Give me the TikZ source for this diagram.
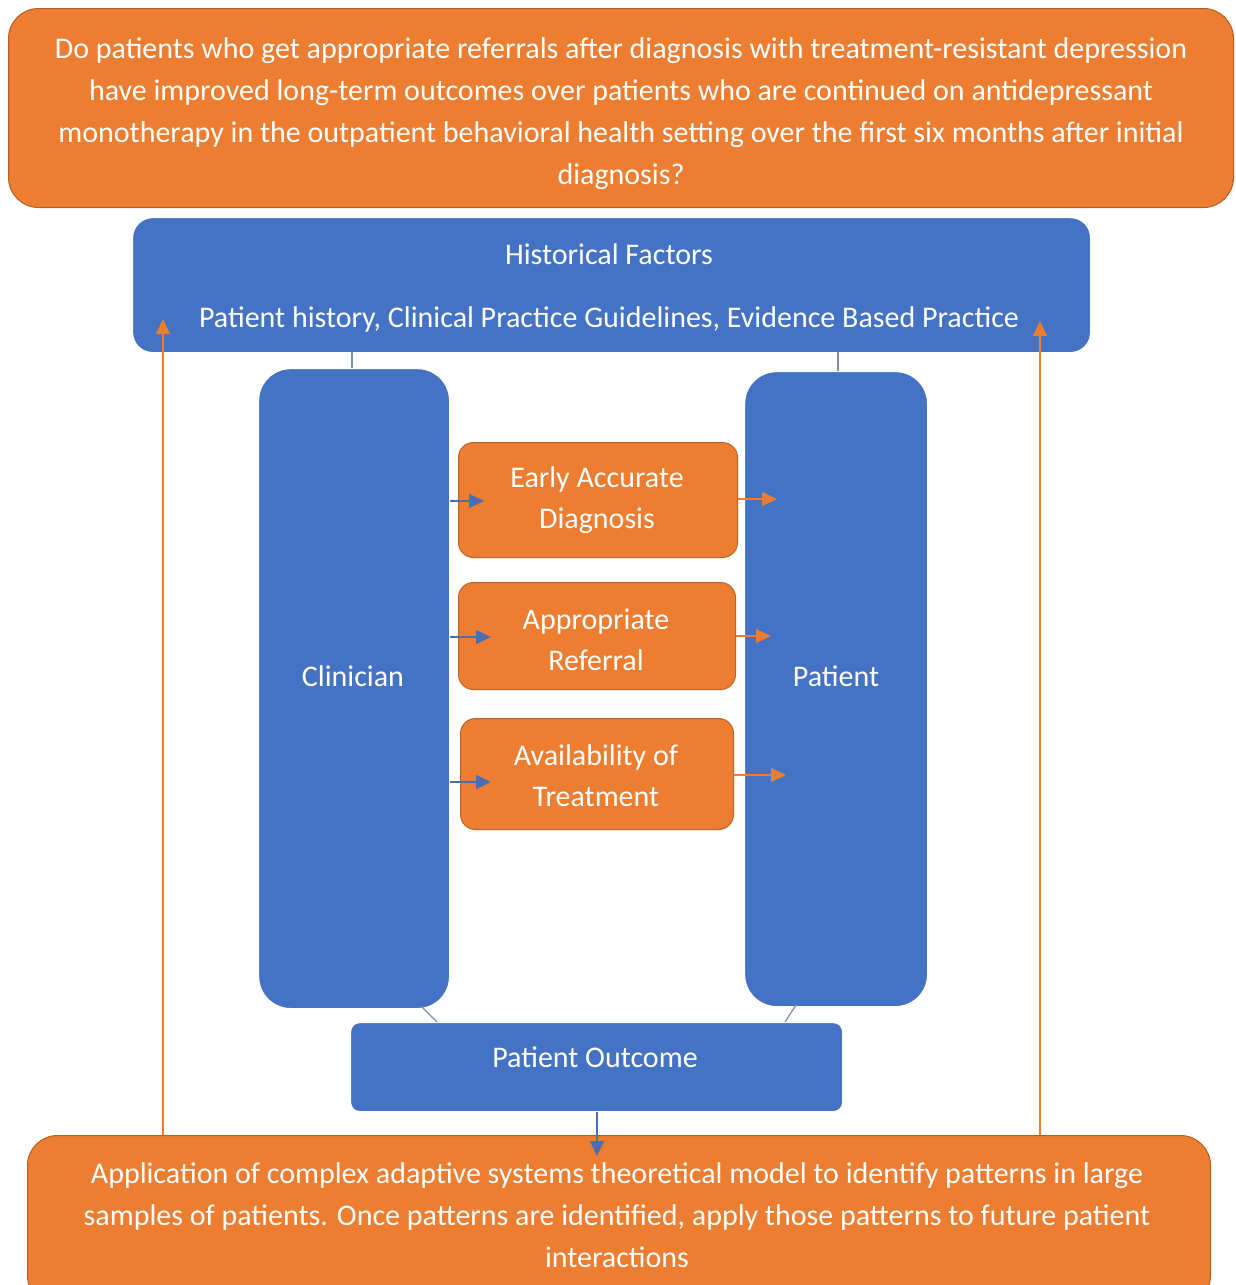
\documentclass[tikz,border=0pt]{standalone}
\usepackage{fontspec}
\setmainfont{Carlito}
\usetikzlibrary{arrows.meta,calc}
\definecolor{obox}{HTML}{ED7D31}
\definecolor{bbox}{HTML}{4472C4}
\definecolor{olin}{HTML}{ED7D31}
\definecolor{blin}{HTML}{4A6FB0}
\definecolor{glin}{HTML}{7F8FA8}
\tikzset{
  base/.style={anchor=north west, text=white, align=center, inner sep=0pt, draw=white, line width=1.2pt},
  orangebig/.style={base, fill=obox, draw=obox!75!black, line width=1pt, rounded corners=30pt},
  bluebig/.style={base, fill=bbox, rounded corners=20pt},
  pillar/.style={base, fill=bbox, rounded corners=32pt},
  smallbox/.style={base, fill=obox, draw=obox!80!black, line width=1pt, rounded corners=15pt},
  outbox/.style={base, fill=bbox, rounded corners=9pt},
  lbl/.style={text=white, align=center, inner sep=0pt, font=\fontsize{30}{42}\selectfont},
  lbls/.style={text=white, align=center, inner sep=0pt, font=\fontsize{30}{41}\selectfont},
  barrow/.style={draw=blin, line width=1.3pt, -{Triangle[length=15pt,width=14pt]}},
  oarrow/.style={draw=olin, line width=1.3pt, -{Triangle[length=15pt,width=14pt]}},
  link/.style={draw=glin, line width=1.2pt},
}
\begin{document}
\begin{tikzpicture}[x=1pt,y=-1pt]
\useasboundingbox (0,0) rectangle (1235,1285);
\fill[white] (0,0) rectangle (1235,1285);

% top question
\node[orangebig, minimum width=1225pt, minimum height=199pt] (q) at (8,8) {};
\node[lbl, anchor=north] (qt) at (621,37)
 {Do patients who get appropriate referrals after diagnosis with treatment-resistant depression\\
  have improved long-term outcomes over patients who are continued on antidepressant\\
  monotherapy in the outpatient behavioral health setting over the first six months after initial\\
  diagnosis?};

% historical factors
\node[bluebig, minimum width=958pt, minimum height=135pt] (hf) at (132,217) {};
\node[lbl] (hft) at (609,254) {Historical Factors};
\node[lbl] (hfs) at (609,319) {Patient history, Clinical Practice Guidelines, Evidence Based Practice};

% pillars
\node[pillar, minimum width=191pt, minimum height=640pt] (cl) at (258,368) {};
\node[lbl] (clt) at (353,676) {Clinician};
\node[pillar, minimum width=183pt, minimum height=635pt] (pt) at (744,371) {};
\node[lbl] (ptt) at (836,676) {Patient};

% links hf -> pillars
\draw[link] (352,352) -- (cl.north -| 352,0);
\draw[link] (838,352) -- (pt.north -| 838,0);

% middle boxes
\node[smallbox, minimum width=279pt, minimum height=115pt] (ead) at (458,442) {};
\node[lbls] (eadt) at (597,500) {Early Accurate\\Diagnosis};
\node[smallbox, minimum width=277pt, minimum height=107pt] (ar) at (458,582) {};
\node[lbls] (art) at (596,640) {Appropriate\\Referral};
\node[smallbox, minimum width=273pt, minimum height=111pt] (at) at (460,718) {};
\node[lbls] (att) at (596,776) {Availability of\\Treatment};

% arrows clinician -> boxes
\coordinate (e1) at (484,501);
\coordinate (e2) at (491,637);
\coordinate (e3) at (491,782);
\draw[barrow] (cl.east |- e1) -- (e1);
\draw[barrow] (cl.east |- e2) -- (e2);
\draw[barrow] (cl.east |- e3) -- (e3);

% arrows boxes -> patient
\coordinate (p1) at (777,499);
\coordinate (p2) at (771,636);
\coordinate (p3) at (786,775);
\draw[oarrow] (ead.east |- p1) -- (p1);
\draw[oarrow] (ar.east |- p2) -- (p2);
\draw[oarrow] (at.east |- p3) -- (p3);

% patient outcome
\node[outbox, minimum width=492pt, minimum height=89pt] (po) at (350,1022) {};
\node[lbl] (pot) at (595,1057) {Patient Outcome};
\draw[link] (421,1006) -- (437,1022);
\draw[link] (796,1005) -- (785,1022);

% bottom box
\node[orangebig, minimum width=1183pt, minimum height=170pt] (bt) at (27,1135) {};
\node[lbl, anchor=north] (btt) at (617,1162)
 {Application of complex adaptive systems theoretical model to identify patterns in large\\
  samples of patients. Once patterns are identified, apply those patterns to future patient\\
  interactions};

% outcome -> bottom
\coordinate (pb) at (597,1156);
\draw[barrow] (po.south -| pb) -- (pb);

% long feedback arrows
\coordinate (l1) at (163,319);
\coordinate (l2) at (1040,321);
\draw[oarrow] (bt.north -| l1) -- (l1);
\draw[oarrow] (bt.north -| l2) -- (l2);
\end{tikzpicture}
\end{document}
